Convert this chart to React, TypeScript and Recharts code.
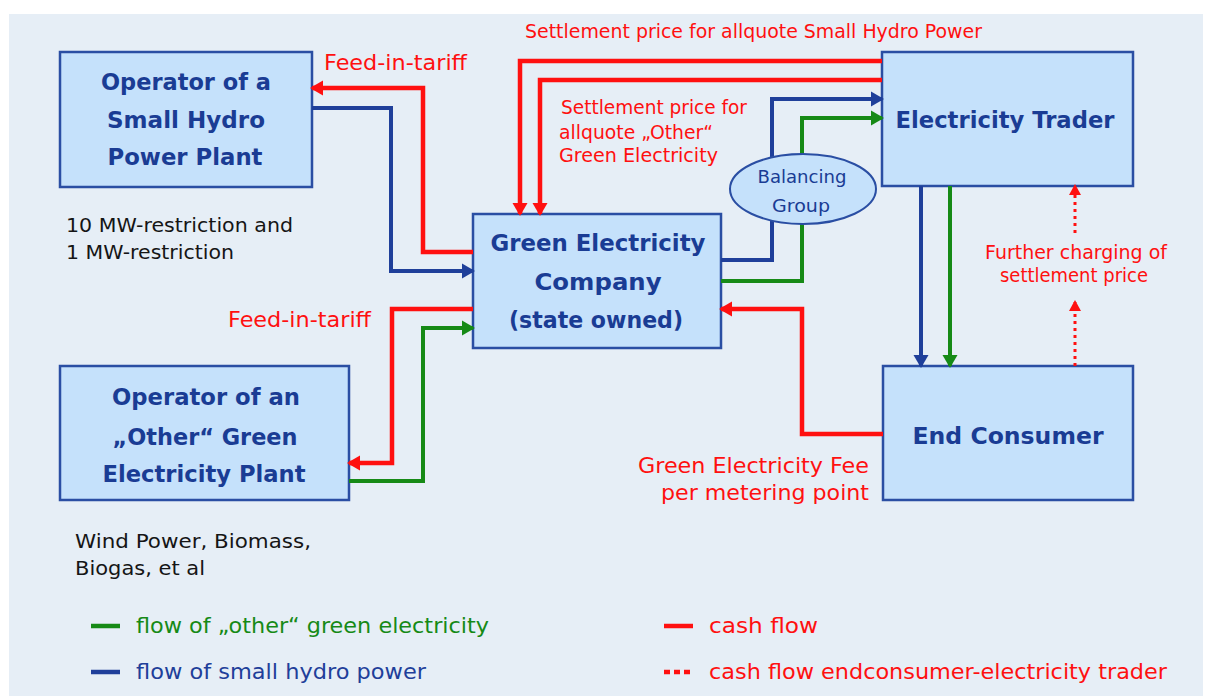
import React from 'react';
import { ComposedChart, XAxis, YAxis, Line, Scatter, ReferenceArea } from 'recharts';

const W = 1207;
const H = 696;

// ---- diagram nodes (diagram coordinates) ----
const boxes = [
  { id: 'hydro', x1: 60, x2: 312, y1: 52, y2: 187 },
  { id: 'other', x1: 60, x2: 349, y1: 366, y2: 500 },
  { id: 'company', x1: 473, x2: 721, y1: 214, y2: 348 },
  { id: 'trader', x1: 882, x2: 1133, y1: 52, y2: 186 },
  { id: 'consumer', x1: 883, x2: 1133, y1: 366, y2: 500 },
];
const balancingGroup = [{ x: 803, y: 189 }];

// ---- flows ----
const redFeedHydro = [{ x: 473, y: 252 }, { x: 423, y: 252 }, { x: 423, y: 88 }, { x: 312, y: 88 }];
const blueHydro = [{ x: 312, y: 108 }, { x: 391, y: 108 }, { x: 391, y: 271 }, { x: 473, y: 271 }];
const redFeedOther = [{ x: 473, y: 309 }, { x: 392, y: 309 }, { x: 392, y: 463 }, { x: 349, y: 463 }];
const greenOther = [{ x: 349, y: 481 }, { x: 423, y: 481 }, { x: 423, y: 328 }, { x: 473, y: 328 }];
const redSettleHydro = [{ x: 882, y: 61 }, { x: 520, y: 61 }, { x: 520, y: 214 }];
const redSettleOther = [{ x: 882, y: 80 }, { x: 540, y: 80 }, { x: 540, y: 214 }];
const blueToTrader = [{ x: 721, y: 260 }, { x: 772, y: 260 }, { x: 772, y: 99 }, { x: 882, y: 99 }];
const greenToTrader = [{ x: 721, y: 281 }, { x: 802, y: 281 }, { x: 802, y: 118 }, { x: 882, y: 118 }];
const blueToConsumer = [{ x: 921, y: 186 }, { x: 921, y: 366 }];
const greenToConsumer = [{ x: 950, y: 186 }, { x: 950, y: 366 }];
const redFee = [{ x: 883, y: 434 }, { x: 802, y: 434 }, { x: 802, y: 309 }, { x: 721, y: 309 }];
const dottedLower = [{ x: 1075, y: 366 }, { x: 1075, y: 302 }];
const dottedUpper = [{ x: 1075, y: 233 }, { x: 1075, y: 186 }];

// ---- legend ----
const legendGreen = [{ x: 91, y: 626 }, { x: 120, y: 626 }];
const legendBlue = [{ x: 91, y: 672 }, { x: 120, y: 672 }];
const legendRed = [{ x: 664, y: 626 }, { x: 693, y: 626 }];
const legendDotted = [{ x: 664, y: 672 }, { x: 692, y: 672 }];

// ---- texts ----
const titleLines = [
  { text: 'Operator of a', x: 186, y: 82, w: 170 },
  { text: 'Small Hydro', x: 186, y: 120, w: 158 },
  { text: 'Power Plant', x: 185, y: 157, w: 155 },
  { text: 'Operator of an', x: 206, y: 397, w: 188 },
  { text: '„Other“ Green', x: 205, y: 437, w: 185 },
  { text: 'Electricity Plant', x: 204, y: 474, w: 203 },
  { text: 'Green Electricity', x: 598, y: 243, w: 215 },
  { text: 'Company', x: 598, y: 282, w: 127 },
  { text: '(state owned)', x: 596, y: 320, w: 174 },
  { text: 'Electricity Trader', x: 1005, y: 120, w: 219 },
  { text: 'End Consumer', x: 1008, y: 436, w: 191 },
];
const redLabelsStart = [
  { text: 'Feed-in-tariff', x: 324, y: 63, w: 143 },
  { text: 'Feed-in-tariff', x: 228, y: 320, w: 143 },
];
const redLabelsEnd = [
  { text: 'Green Electricity Fee', x: 869, y: 466, w: 231 },
  { text: 'per metering point', x: 869, y: 493, w: 208 },
];
const redCondensedStart = [
  { text: 'Settlement price for allquote Small Hydro Power', x: 525, y: 31, w: 457 },
  { text: 'Settlement price for', x: 561, y: 107, w: 186 },
  { text: 'allquote „Other“', x: 559, y: 132, w: 154 },
  { text: 'Green Electricity', x: 559, y: 155, w: 159 },
];
const redCondensedMiddle = [
  { text: 'Further charging of', x: 1076, y: 252, w: 182 },
  { text: 'settlement price', x: 1074, y: 275, w: 148 },
];
const blackNotes = [
  { text: '10 MW-restriction and', x: 66, y: 225, w: 227 },
  { text: '1 MW-restriction', x: 66, y: 252, w: 168 },
  { text: 'Wind Power, Biomass,', x: 75, y: 541, w: 236 },
  { text: 'Biogas, et al', x: 75, y: 568, w: 130 },
];
const balancingLines = [
  { text: 'Balancing', x: 802, y: 176, w: 89 },
  { text: 'Group', x: 801, y: 205, w: 58 },
];
const legendGreenText = [{ text: 'flow of „other“ green electricity', x: 136, y: 626, w: 353 }];
const legendBlueText = [{ text: 'flow of small hydro power', x: 136, y: 672, w: 290 }];
const legendRedText = [
  { text: 'cash flow', x: 709, y: 626, w: 109 },
  { text: 'cash flow endconsumer-electricity trader', x: 709, y: 672, w: 458 },
];

// ---- styles ----
const RED = '#ff1010';
const BLUE = '#1f3f9a';
const GREEN = '#168a16';
const TITLE = '#1a3c94';
const BOX_FILL = '#c5e1fb';
const BOX_STROKE = '#2a4ea3';
const BG = '#e6eef6';
const FONT = '"DejaVu Sans", Verdana, sans-serif';

type P = { x: number; y: number };

const arrowDot = (pts: P[], color: string, size = 13, half = 7.5) => (props: any) => {
  const { cx, cy, index } = props;
  if (index !== pts.length - 1 || cx == null || cy == null) return <g key={`n${index}`} />;
  const p = pts[index - 1];
  const q = pts[index];
  const dx = Math.sign(q.x - p.x);
  const dy = Math.sign(q.y - p.y);
  const tx = cx + dx * 2;
  const ty = cy + dy * 2;
  const bx = tx - dx * size;
  const by = ty - dy * size;
  const px = -dy;
  const py = dx;
  const points = `${tx},${ty} ${bx + px * half},${by + py * half} ${bx - px * half},${by - py * half}`;
  return <polygon key={`a${index}`} points={points} fill={color} />;
};

const textShape = (opts: { color: string; size: number; weight?: string; anchor: string }) => (props: any) => {
  const { cx, cy, payload } = props;
  return (
    <text
      x={cx}
      y={cy}
      fill={opts.color}
      fontSize={opts.size}
      fontWeight={opts.weight || 'normal'}
      fontFamily={FONT}
      textAnchor={opts.anchor}
      dominantBaseline="central"
      textLength={payload.w}
      lengthAdjust="spacingAndGlyphs"
    >
      {payload.text}
    </text>
  );
};

const ellipseShape = (props: any) => (
  <ellipse cx={props.cx} cy={props.cy} rx={73} ry={35} fill={BOX_FILL} stroke={BOX_STROKE} strokeWidth={2} />
);

const flows: { data: P[]; color: string; width: number; dash?: string; arrow?: number; half?: number }[] = [
  { data: redFeedHydro, color: RED, width: 4.5, arrow: 13 },
  { data: blueHydro, color: BLUE, width: 4, arrow: 13 },
  { data: redFeedOther, color: RED, width: 4.5, arrow: 13 },
  { data: greenOther, color: GREEN, width: 4, arrow: 13 },
  { data: redSettleHydro, color: RED, width: 4.5, arrow: 13 },
  { data: redSettleOther, color: RED, width: 4.5, arrow: 13 },
  { data: blueToTrader, color: BLUE, width: 4, arrow: 13 },
  { data: greenToTrader, color: GREEN, width: 4, arrow: 13 },
  { data: blueToConsumer, color: BLUE, width: 4, arrow: 13 },
  { data: greenToConsumer, color: GREEN, width: 4, arrow: 13 },
  { data: redFee, color: RED, width: 4.5, arrow: 13 },
  { data: dottedLower, color: RED, width: 3, dash: '3 4', arrow: 11, half: 6 },
  { data: dottedUpper, color: RED, width: 3, dash: '3 4', arrow: 11, half: 6 },
  { data: legendGreen, color: GREEN, width: 4.5 },
  { data: legendBlue, color: BLUE, width: 4.5 },
  { data: legendRed, color: RED, width: 4.5 },
  { data: legendDotted, color: RED, width: 4.5, dash: '6 4' },
];

export default function App() {
  return (
    <div style={{ position: 'absolute', left: 0, top: 0, background: '#ffffff' }}>
      <ComposedChart width={W} height={H} margin={{ top: 0, right: 0, bottom: 0, left: 0 }}>
        <XAxis type="number" dataKey="x" domain={[0, W]} hide allowDataOverflow />
        <YAxis type="number" dataKey="y" domain={[0, H]} reversed hide allowDataOverflow />
        <ReferenceArea x1={9} x2={1203} y1={14} y2={H} fill={BG} fillOpacity={1} stroke="none" ifOverflow="visible" />
        {boxes.map((b) => (
          <ReferenceArea
            key={b.id}
            x1={b.x1}
            x2={b.x2}
            y1={b.y1}
            y2={b.y2}
            fill={BOX_FILL}
            fillOpacity={1}
            stroke={BOX_STROKE}
            strokeWidth={2.5}
            ifOverflow="visible"
          />
        ))}
        {flows.map((f, i) => (
          <Line
            key={`f${i}`}
            data={f.data}
            dataKey="y"
            type="linear"
            stroke={f.color}
            strokeWidth={f.width}
            strokeDasharray={f.dash}
            strokeLinejoin="miter"
            strokeLinecap="butt"
            dot={f.arrow ? arrowDot(f.data, f.color, f.arrow, f.half ?? 7.5) : false}
            activeDot={false}
            isAnimationActive={false}
            legendType="none"
          />
        ))}
        <Scatter data={balancingGroup} shape={ellipseShape} isAnimationActive={false} />
        <Scatter data={titleLines} shape={textShape({ color: TITLE, size: 23, weight: 'bold', anchor: 'middle' })} isAnimationActive={false} />
        <Scatter data={redLabelsStart} shape={textShape({ color: RED, size: 21, anchor: 'start' })} isAnimationActive={false} />
        <Scatter data={redLabelsEnd} shape={textShape({ color: RED, size: 21, anchor: 'end' })} isAnimationActive={false} />
        <Scatter data={redCondensedStart} shape={textShape({ color: RED, size: 19, anchor: 'start' })} isAnimationActive={false} />
        <Scatter data={redCondensedMiddle} shape={textShape({ color: RED, size: 19, anchor: 'middle' })} isAnimationActive={false} />
        <Scatter data={blackNotes} shape={textShape({ color: '#151515', size: 20, anchor: 'start' })} isAnimationActive={false} />
        <Scatter data={balancingLines} shape={textShape({ color: TITLE, size: 18, anchor: 'middle' })} isAnimationActive={false} />
        <Scatter data={legendGreenText} shape={textShape({ color: GREEN, size: 21, anchor: 'start' })} isAnimationActive={false} />
        <Scatter data={legendBlueText} shape={textShape({ color: BLUE, size: 21, anchor: 'start' })} isAnimationActive={false} />
        <Scatter data={legendRedText} shape={textShape({ color: RED, size: 21, anchor: 'start' })} isAnimationActive={false} />
      </ComposedChart>
    </div>
  );
}
